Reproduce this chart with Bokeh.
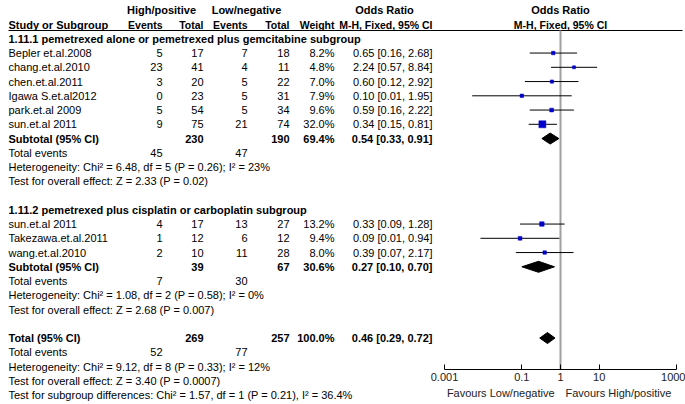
import numpy as np
from bokeh.plotting import figure
from bokeh.models import (Range1d, LogScale, LogAxis, FixedTicker, ColumnDataSource,
                          CustomJSTickFormatter)
from bokeh.core.properties import value
from bokeh.embed import file_html
from bokeh.resources import INLINE

# ---------------- data ----------------
g1_title = "1.11.1 pemetrexed alone or pemetrexed plus gemcitabine subgroup"
g1_study = ["Bepler et.al.2008", "chang.et.al.2010", "chen.et.al.2011",
            "Igawa S.et.al2012", "park.et.al 2009", "sun.et.al 2011"]
g1_hp_events = [5, 23, 3, 0, 5, 9]
g1_hp_total = [17, 41, 20, 23, 54, 75]
g1_ln_events = [7, 4, 5, 5, 5, 21]
g1_ln_total = [18, 11, 22, 31, 34, 74]
g1_weight = [8.2, 4.8, 7.0, 7.9, 9.6, 32.0]
g1_or = [0.65, 2.24, 0.60, 0.10, 0.59, 0.34]
g1_lo = [0.16, 0.57, 0.12, 0.0052, 0.16, 0.15]
g1_hi = [2.68, 8.84, 2.92, 1.95, 2.22, 0.81]

g2_title = "1.11.2 pemetrexed plus cisplatin or carboplatin subgroup"
g2_study = ["sun.et.al 2011", "Takezawa.et.al.2011", "wang.et.al.2010"]
g2_hp_events = [4, 1, 2]
g2_hp_total = [17, 12, 10]
g2_ln_events = [13, 6, 11]
g2_ln_total = [27, 12, 28]
g2_weight = [13.2, 9.4, 8.0]
g2_or = [0.33, 0.09, 0.39]
g2_lo = [0.09, 0.0085, 0.07]
g2_hi = [1.28, 0.94, 2.17]

# subtotals: [group 1, group 2, overall]
sum_label = ["Subtotal (95% CI)", "Subtotal (95% CI)", "Total (95% CI)"]
sum_hp_total = [230, 39, 269]
sum_ln_total = [190, 67, 257]
sum_weight = [69.4, 30.6, 100.0]
sum_or = [0.54, 0.27, 0.46]
sum_lo = [0.33, 0.10, 0.29]
sum_hi = [0.91, 0.70, 0.72]
sum_hp_events = [45, 7, 52]
sum_ln_events = [47, 30, 77]
sum_het = ["Heterogeneity: Chi\u00b2 = 6.48, df = 5 (P = 0.26); I\u00b2 = 23%",
           "Heterogeneity: Chi\u00b2 = 1.08, df = 2 (P = 0.58); I\u00b2 = 0%",
           "Heterogeneity: Chi\u00b2 = 9.12, df = 8 (P = 0.33); I\u00b2 = 12%"]
sum_test = ["Test for overall effect: Z = 2.33 (P = 0.02)",
            "Test for overall effect: Z = 2.68 (P = 0.007)",
            "Test for overall effect: Z = 3.40 (P = 0.0007)"]
subgroup_test = "Test for subgroup differences: Chi\u00b2 = 1.57, df = 1 (P = 0.21), I\u00b2 = 36.4%"

axis_ticks = [0.001, 0.1, 1, 10, 1000]
favours_left = "Favours Low/negative"
favours_right = "Favours High/positive"

# ---------------- layout ----------------
W, H = 685, 404
X0, X1 = 0, W              # page coordinates of the frame
Y0, Y1 = 0, H
X_ONE = 560.0              # page x of OR = 1
DEC = 232.0 / 6.0          # pixels per decade
AXIS_Y = 369
ROW0, ROW_H = 9.8, 14.25


def ry(r):
    return ROW0 + ROW_H * r


C_STUDY, C_HPE, C_HPT, C_LNE, C_LNT, C_W, C_OR = 8, 162, 203, 247, 289, 334, 432
FONT = value("Liberation Sans")
FS = "11px"

p = figure(width=W, height=H, x_range=Range1d(X0, X1), y_range=Range1d(Y1, Y0),
           output_backend="svg", toolbar_location=None, min_border=0,
           x_axis_type=None, y_axis_type=None)
p.outline_line_color = None
p.background_fill_color = "white"
p.border_fill_color = "white"
p.extra_x_ranges = {"or": Range1d(10 ** ((X0 - X_ONE) / DEC), 10 ** ((X1 - X_ONE) / DEC))}
p.extra_x_scales = {"or": LogScale()}

cells = {}


def put(t, x, r, align="left", bold=False, size=FS):
    key = (align, "bold" if bold else "normal", size)
    d = cells.setdefault(key, dict(x=[], y=[], t=[]))
    d["x"].append(x)
    d["y"].append(ry(r))
    d["t"].append(str(t))


def ortxt(o, l, h):
    return f"{o:.2f} [{l:.2f}, {h:.2f}]"


HS = "10.5px"
# headers
put("High/positive", 161, 0, "center", True)
put("Low/negative", 246, 0, "center", True)
put("Odds Ratio", 384, 0, "center", True)
put("Study or Subgroup", C_STUDY, 1, "left", True)
put("Events", C_HPE, 1, "right", True, HS)
put("Total", C_HPT, 1, "right", True, HS)
put("Events", C_LNE, 1, "right", True, HS)
put("Total", C_LNT, 1, "right", True, HS)
put("Weight", C_W, 1, "right", True, HS)
put("M-H, Fixed, 95% CI", C_OR, 1, "right", True, HS)

groups = [
    (g1_title, g1_study, g1_hp_events, g1_hp_total, g1_ln_events, g1_ln_total, g1_weight, g1_or, g1_lo, g1_hi),
    (g2_title, g2_study, g2_hp_events, g2_hp_total, g2_ln_events, g2_ln_total, g2_weight, g2_or, g2_lo, g2_hi),
]

st = dict(o=[], lo=[], hi=[], y=[], sz=[])
dia = dict(xs=[], ys=[])

r = 2
rows_sum = []
for gi, (title, stu, hpe, hpt, lne, lnt, w, o, lo, hi) in enumerate(groups):
    put(title, C_STUDY, r, "left", True)
    r += 1
    for i in range(len(stu)):
        put(stu[i], C_STUDY, r)
        put(hpe[i], C_HPE, r, "right")
        put(hpt[i], C_HPT, r, "right")
        put(lne[i], C_LNE, r, "right")
        put(lnt[i], C_LNT, r, "right")
        put(f"{w[i]:.1f}%", C_W, r, "right")
        put(ortxt(o[i], lo[i], hi[i]), C_OR, r, "right")
        st["o"].append(o[i]); st["lo"].append(lo[i]); st["hi"].append(hi[i])
        st["y"].append(ry(r)); st["sz"].append(max(3.0, 7.0 * np.sqrt(w[i] / 32.0)))
        r += 1
    rows_sum.append(r)
    r += 5

rows_sum.append(rows_sum[-1] + 5)
for k, rs in enumerate(rows_sum):
    put(sum_label[k], C_STUDY, rs, "left", True)
    put(sum_hp_total[k], C_HPT, rs, "right", True)
    put(sum_ln_total[k], C_LNT, rs, "right", True)
    put(f"{sum_weight[k]:.1f}%", C_W, rs, "right", True)
    put(ortxt(sum_or[k], sum_lo[k], sum_hi[k]), C_OR, rs, "right", True)
    put("Total events", C_STUDY, rs + 1)
    put(sum_hp_events[k], C_HPE, rs + 1, "right")
    put(sum_ln_events[k], C_LNE, rs + 1, "right")
    put(sum_het[k], C_STUDY, rs + 2)
    put(sum_test[k], C_STUDY, rs + 3)
    yc, hh = ry(rs), 5.5
    dia["xs"].append([sum_lo[k], sum_or[k], sum_hi[k], sum_or[k]])
    dia["ys"].append([yc, yc - hh, yc, yc + hh])
put(subgroup_test, C_STUDY, rows_sum[-1] + 4)

# header rule and line of no effect
p.segment(x0=[C_STUDY], x1=[X1 - 3], y0=[30], y1=[30], line_color="black", line_width=1)
p.segment(x0=[1], x1=[1], y0=[30], y1=[AXIS_Y], x_range_name="or",
          line_color="#a0a0a0", line_width=2)

# forest
src = ColumnDataSource(st)
p.segment(x0="lo", x1="hi", y0="y", y1="y", source=src, x_range_name="or",
          line_color="black", line_width=1)
p.scatter(x="o", y="y", size="sz", marker="square", source=src, x_range_name="or",
          fill_color="#0000c8", line_color="#0000c8", line_width=0.5)
p.patches(xs="xs", ys="ys", source=ColumnDataSource(dia), x_range_name="or",
          fill_color="black", line_color="black")

# texts
for (align, style, size), d in cells.items():
    p.text(x="x", y="y", text="t", source=ColumnDataSource(d), text_align=align,
           text_baseline="middle", text_font=FONT, text_font_size=size,
           text_font_style=style, text_color="black")

p.text(x=[1], y=[ry(0)], text=["Odds Ratio"], x_range_name="or",
       text_align="center", text_baseline="middle", text_font=FONT, text_font_size=FS,
       text_font_style="bold", text_color="black")
p.text(x=[1], y=[ry(1)], text=["M-H, Fixed, 95% CI"], x_range_name="or",
       text_align="center", text_baseline="middle", text_font=FONT, text_font_size=HS,
       text_font_style="bold", text_color="black")
p.text(x=[1], y=[392], text=[favours_left], x_range_name="or", x_offset=-6,
       text_align="right", text_baseline="middle", text_font=FONT, text_font_size=FS,
       text_color="#222222")
p.text(x=[1], y=[392], text=[favours_right], x_range_name="or", x_offset=5,
       text_align="left", text_baseline="middle", text_font=FONT, text_font_size=FS,
       text_color="#222222")

# odds-ratio axis
ax = LogAxis(x_range_name="or", fixed_location=AXIS_Y, bounds=(axis_ticks[0], axis_ticks[-1]),
             ticker=FixedTicker(ticks=axis_ticks, minor_ticks=[]),
             formatter=CustomJSTickFormatter(code="return String(tick)"))
ax.major_tick_in = 5
ax.major_tick_out = 0
ax.minor_tick_in = 0
ax.minor_tick_out = 0
ax.axis_line_color = "black"
ax.major_tick_line_color = "black"
ax.major_label_text_font = "Liberation Sans"
ax.major_label_text_font_size = FS
ax.major_label_text_color = "#222222"
ax.major_label_standoff = 3
p.add_layout(ax, "below")

open("out.html", "w").write(file_html(p, INLINE))
